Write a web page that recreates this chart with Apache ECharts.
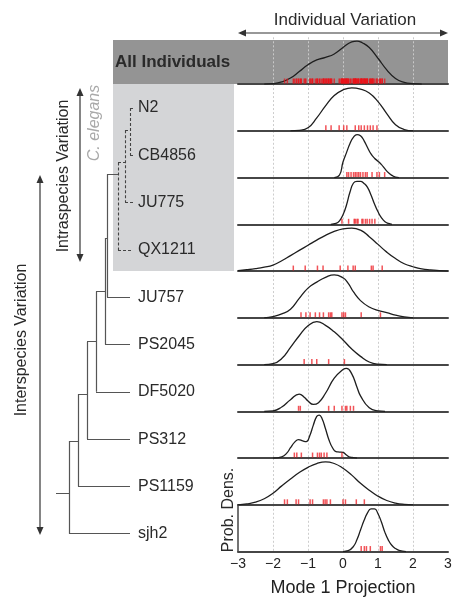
<!DOCTYPE html>
<html><head><meta charset="utf-8">
<script src="https://cdn.jsdelivr.net/npm/echarts@6/dist/echarts.min.js"></script>
<style>html,body{margin:0;padding:0;background:#fff}#c{width:455px;height:599px}</style>
</head><body><div id="c"></div>
<script>
// ---------- data ----------
const panelNames = ['All Individuals','N2','CB4856','JU775','QX1211','JU757','PS2045','DF5020','PS312','PS1159','sjh2'];
const leafNames = ['N2','CB4856','JU775','QX1211','JU757','PS2045','DF5020','PS312','PS1159','sjh2'];
const xTicks = [-3,-2,-1,0,1,2,3];

// density curves: [projection, relative density]
const densAll = [[-2.25,0],[-2,0.01],[-1.75,0.05],[-1.5,0.14],[-1.25,0.29],[-1,0.45],[-0.75,0.56],[-0.5,0.62],[-0.25,0.7],[0,0.85],[0.25,0.98],[0.4,1.0],[0.55,0.96],[0.75,0.85],[1,0.6],[1.25,0.33],[1.5,0.13],[1.75,0.04],[2,0.01],[2.25,0]];
const densN2 = [[-1.5,0],[-1.25,0.01],[-1,0.07],[-0.75,0.3],[-0.5,0.58],[-0.25,0.82],[0,0.95],[0.25,1.0],[0.5,0.97],[0.75,0.88],[1,0.68],[1.25,0.4],[1.5,0.14],[1.75,0.03],[2,0]];
const densCB4856 = [[-0.25,0],[-0.1,0.06],[0,0.36],[0.1,0.58],[0.2,0.79],[0.3,0.94],[0.4,1.0],[0.5,0.97],[0.6,0.86],[0.7,0.7],[0.8,0.55],[0.9,0.45],[1.0,0.38],[1.1,0.3],[1.2,0.2],[1.3,0.11],[1.4,0.05],[1.5,0.01],[1.6,0]];
const densJU775 = [[-0.35,0],[-0.2,0.02],[-0.1,0.08],[0,0.22],[0.1,0.45],[0.2,0.75],[0.3,0.96],[0.4,1.0],[0.5,1.0],[0.6,0.95],[0.7,0.86],[0.8,0.68],[0.9,0.47],[1.0,0.29],[1.1,0.15],[1.2,0.06],[1.3,0.02],[1.4,0]];
const densQX1211 = [[-3,0.01],[-2.75,0.03],[-2.5,0.055],[-2.25,0.09],[-2,0.14],[-1.75,0.24],[-1.5,0.36],[-1.25,0.48],[-1,0.6],[-0.75,0.72],[-0.5,0.83],[-0.25,0.92],[0,0.98],[0.25,1.0],[0.5,0.95],[0.75,0.8],[1,0.62],[1.25,0.44],[1.5,0.29],[1.75,0.17],[2,0.1],[2.25,0.05],[2.5,0.025],[2.75,0.01],[3,0]];
const densJU757 = [[-2.25,0],[-2,0.03],[-1.75,0.09],[-1.5,0.2],[-1.25,0.45],[-1,0.69],[-0.75,0.83],[-0.5,0.94],[-0.25,1.0],[0,0.93],[0.15,0.8],[0.3,0.6],[0.5,0.4],[0.75,0.25],[1,0.17],[1.25,0.12],[1.5,0.06],[1.75,0.02],[2,0]];
const densPS2045 = [[-2.25,0],[-2,0.02],[-1.75,0.14],[-1.5,0.4],[-1.25,0.67],[-1,0.9],[-0.75,1.0],[-0.5,0.91],[-0.25,0.76],[0,0.57],[0.25,0.36],[0.5,0.19],[0.75,0.06],[1,0.01],[1.25,0]];
const densDF5020 = [[-2.25,0],[-2,0.01],[-1.75,0.1],[-1.5,0.27],[-1.25,0.4],[-1.1,0.32],[-1,0.24],[-0.85,0.16],[-0.7,0.2],[-0.5,0.42],[-0.25,0.77],[0,0.97],[0.1,1.0],[0.25,0.87],[0.4,0.56],[0.5,0.36],[0.75,0.08],[1,0.01],[1.2,0]];
const densPS312 = [[-2,0],[-1.75,0.03],[-1.6,0.12],[-1.5,0.24],[-1.38,0.37],[-1.27,0.43],[-1.15,0.4],[-1.05,0.38],[-0.95,0.52],[-0.85,0.76],[-0.75,0.97],[-0.68,1.0],[-0.6,0.92],[-0.5,0.68],[-0.4,0.42],[-0.3,0.24],[-0.2,0.15],[-0.1,0.14],[0,0.13],[0.1,0.07],[0.2,0.02],[0.3,0.01],[0.4,0]];
const densPS1159 = [[-3,0],[-2.75,0.02],[-2.5,0.06],[-2.25,0.14],[-2,0.27],[-1.75,0.44],[-1.5,0.6],[-1.25,0.75],[-1,0.87],[-0.75,0.96],[-0.5,1.0],[-0.25,0.96],[0,0.85],[0.25,0.69],[0.5,0.5],[0.75,0.34],[1,0.2],[1.25,0.1],[1.5,0.04],[1.75,0.01],[2,0]];
const densSjh2 = [[0,0],[0.15,0.02],[0.3,0.12],[0.4,0.28],[0.5,0.5],[0.6,0.72],[0.7,0.9],[0.8,0.99],[0.9,0.99],[1.0,0.88],[1.1,0.68],[1.2,0.44],[1.3,0.26],[1.4,0.14],[1.5,0.07],[1.6,0.03],[1.8,0]];

// individual projections (rug ticks)
const rugN2 = [-0.49,-0.34,-0.11,0.02,0.11,0.35,0.45,0.52,0.61,0.70,0.78,0.86,0.97];
const rugCB4856 = [0.11,0.16,0.23,0.30,0.35,0.40,0.45,0.50,0.57,0.64,0.69,0.83,0.97,1.04,1.19];
const rugJU775 = [-0.03,0.16,0.32,0.35,0.40,0.43,0.54,0.57,0.64,0.69,0.76,0.83,0.91];
const rugQX1211 = [-1.42,-1.08,-0.73,-0.57,-0.08,0.14,0.29,0.35,0.81,0.86,1.12];
const rugJU757 = [-1.2,-1.06,-0.94,-0.79,-0.67,-0.56,-0.41,-0.36,-0.32,-0.03,0.02,0.07,0.52,1.07];
const rugPS2045 = [-1.11,-0.89,-0.75,-0.41,0.04];
const rugDF5020 = [-1.27,-1.22,-0.41,-0.25,-0.03,0.07,0.11,0.21,0.30];
const rugPS312 = [-1.39,-1.32,-1.19,-0.87,-0.73,-0.67,-0.62,-0.54,-0.46,-0.03];
const rugPS1159 = [-1.67,-1.59,-1.34,-1.27,-0.94,-0.87,-0.56,-0.51,-0.46,-0.36,0,0.07,0.38,0.61];
const rugSjh2 = [0.52,0.61,0.67,0.78,1.07,1.12];

// dendrogram (branch depth units, leaf rows 1..10)
const nodeDepth  = [74, 69, 62, 51, 49, 40, 31, 22, 13];
const nodeTop    = [1, 1.47, 2.15, 2.4, 3.75, 4.88, 5.94, 7.05, 8.04];
const nodeBottom = [2, 3, 4, 5, 6, 7, 8, 9, 10];
const nodeJoin   = [1.47, 2.15, 2.4, 3.75, 4.88, 5.94, 7.05, 8.04, 9.15];
const nodeDashedV = [true, true, true, false, false, false, false, false, false];
const nodeDashedH = [true, true, false, false, false, false, false, false, false];
const leafStart = [74, 74, 69, 62, 51, 49, 40, 31, 22, 13];
const leafEnd   = [77, 78, 78, 77, 74, 74, 74, 74, 74, 74];
const leafDashed = [true, true, true, true, false, false, false, false, false, false];

// ---------- chart ----------
const dens = [densAll, densN2, densCB4856, densJU775, densQX1211, densJU757, densPS2045, densDF5020, densPS312, densPS1159, densSjh2];
const strainRugs = [rugN2, rugCB4856, rugJU775, rugQX1211, rugJU757, rugPS2045, rugDF5020, rugPS312, rugPS1159, rugSjh2];
const rugs = [[].concat(...strainRugs)].concat(strainRugs);

const FONT = '"Liberation Sans", Arial, Helvetica, sans-serif';
const N = panelNames.length;
const PANEL_H = 46.75, PANEL_TOP0 = 37.3;
const grids = [], xAxes = [], yAxes = [], series = [];
for (let i = 0; i < N; i++) {
  grids.push({left: 238, width: 210, top: PANEL_TOP0 + PANEL_H * i, height: PANEL_H});
  const last = i === N - 1;
  xAxes.push({
    type: 'value', gridIndex: i, min: xTicks[0], max: xTicks[xTicks.length - 1], interval: 1,
    axisLine: {show: true, onZero: false, lineStyle: {color: '#464646', width: 2}},
    axisTick: {show: false},
    axisLabel: {show: last, fontFamily: FONT, fontSize: 14, color: '#222', margin: 6,
      formatter: v => String(v).replace('-', '\u2212')},
    splitLine: {show: true, showMinLine: false, showMaxLine: false,
      lineStyle: {type: [2, 2], color: i === 0 ? '#c9c9c9' : '#cdcdcd', width: 1}},
    name: last ? 'Mode 1 Projection' : '', nameLocation: 'middle', nameGap: 27,
    nameTextStyle: {fontFamily: FONT, fontSize: 18, color: '#222'}
  });
  yAxes.push({
    type: 'value', gridIndex: i, min: 0, max: 1.087, show: last,
    axisLine: {show: true, onZero: false, lineStyle: {color: '#444', width: 1.5}},
    axisTick: {show: false}, axisLabel: {show: false}, splitLine: {show: false}
  });
  series.push({
    type: 'line', xAxisIndex: i, yAxisIndex: i, data: dens[i], smooth: 0.5,
    symbol: 'none', lineStyle: {color: '#1e1e1e', width: 1.3}, z: 3, silent: true
  });
  series.push({
    type: 'scatter', xAxisIndex: i, yAxisIndex: i, data: rugs[i].map(v => [v, 0]),
    symbol: 'rect', symbolSize: [1.5, 5], symbolOffset: [0, -3], clip: false,
    itemStyle: {color: 'rgba(235,16,24,0.9)'}, z: 4, silent: true
  });
}

// dendrogram grid
const DG = N;
grids.push({left: 56, width: 78, top: 84.35, height: 473});
xAxes.push({type: 'value', gridIndex: DG, min: 0, max: 78, show: false});
yAxes.push({type: 'value', gridIndex: DG, min: 0.5, max: 10.5, inverse: true, show: false});
yAxes.push({type: 'category', gridIndex: DG, position: 'right', inverse: true, data: leafNames,
  axisLine: {show: false}, axisTick: {show: false}, splitLine: {show: false},
  axisLabel: {fontFamily: FONT, fontSize: 16, color: '#2a2a2a', margin: 4}});
const solidSeg = [], dashSeg = [];
for (let k = 0; k < nodeDepth.length; k++) {
  const parentDepth = k + 1 < nodeDepth.length ? nodeDepth[k + 1] : 0;
  (nodeDashedV[k] ? dashSeg : solidSeg).push({coords: [[nodeDepth[k], nodeTop[k]], [nodeDepth[k], nodeBottom[k]]]});
  (nodeDashedH[k] ? dashSeg : solidSeg).push({coords: [[parentDepth, nodeJoin[k]], [nodeDepth[k], nodeJoin[k]]]});
}
for (let r = 0; r < leafNames.length; r++) {
  (leafDashed[r] ? dashSeg : solidSeg).push({coords: [[leafStart[r], r + 1], [leafEnd[r], r + 1]]});
}
series.push({type: 'lines', coordinateSystem: 'cartesian2d', xAxisIndex: DG, yAxisIndex: DG,
  data: solidSeg, lineStyle: {color: '#555', width: 1.2, opacity: 1}, silent: true, z: 3});
series.push({type: 'lines', coordinateSystem: 'cartesian2d', xAxisIndex: DG, yAxisIndex: DG,
  data: dashSeg, lineStyle: {color: '#444', width: 1.1, type: [3, 2], opacity: 1}, silent: true, z: 3});

// decorations
function txt(s, x, y, size, opts) {
  opts = opts || {};
  return {type: 'text', x: x, y: y, rotation: opts.rot || 0, z: 5,
    style: {text: s, x: 0, y: 0, fill: opts.color || '#2a2a2a',
      font: (opts.italic ? 'italic ' : '') + (opts.bold ? 'bold ' : '') + size + 'px ' + FONT,
      align: opts.align || 'center', verticalAlign: 'middle',
      textAlign: opts.align || 'center', textVerticalAlign: 'middle'}};
}
function hArrow(x1, x2, y) {
  return [
    {type: 'line', z: 5, shape: {x1: x1 + 4, y1: y, x2: x2 - 4, y2: y}, style: {stroke: '#333', lineWidth: 1.2}},
    {type: 'polygon', z: 5, shape: {points: [[x1, y], [x1 + 8, y - 3.5], [x1 + 8, y + 3.5]]}, style: {fill: '#333'}},
    {type: 'polygon', z: 5, shape: {points: [[x2, y], [x2 - 8, y - 3.5], [x2 - 8, y + 3.5]]}, style: {fill: '#333'}}
  ];
}
function vArrow(x, y1, y2) {
  return [
    {type: 'line', z: 5, shape: {x1: x, y1: y1 + 4, x2: x, y2: y2 - 4}, style: {stroke: '#333', lineWidth: 1.2}},
    {type: 'polygon', z: 5, shape: {points: [[x, y1], [x - 3.5, y1 + 8], [x + 3.5, y1 + 8]]}, style: {fill: '#333'}},
    {type: 'polygon', z: 5, shape: {points: [[x, y2], [x - 3.5, y2 - 8], [x + 3.5, y2 - 8]]}, style: {fill: '#333'}}
  ];
}
const R = Math.PI / 2;
const graphics = [
  {type: 'rect', z: -10, shape: {x: 113, y: 40, width: 335, height: 44}, style: {fill: '#949494'}},
  {type: 'rect', z: -10, shape: {x: 113, y: 84, width: 121, height: 187}, style: {fill: '#d4d5d7'}},
  txt('All Individuals', 115, 62, 17, {bold: true, align: 'left', color: '#2a2a2a'}),
  txt('Individual Variation', 345, 20, 17),
  ...hArrow(238, 448, 33),
  txt('Intraspecies Variation', 64, 176, 16, {rot: R}),
  ...vArrow(80, 88, 262),
  txt('C. elegans', 95, 123, 16, {rot: R, italic: true, color: '#a9a9a9'}),
  txt('Interspecies Variation', 22, 340, 16, {rot: R}),
  ...vArrow(40, 175, 535),
  txt('Prob. Dens.', 229, 510, 16, {rot: R})
];

const chart = echarts.init(document.getElementById('c'), null, {renderer: 'canvas'});
chart.setOption({
  animation: false,
  backgroundColor: '#fff',
  grid: grids, xAxis: xAxes, yAxis: yAxes, series: series,
  graphic: {elements: graphics}
});
</script></body></html>
